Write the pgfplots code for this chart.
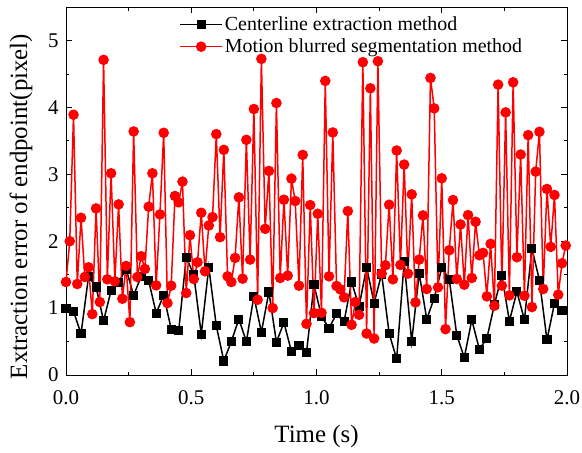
\documentclass[border=0pt]{standalone}
\usepackage{fontspec}
\setmainfont{Liberation Serif}
\usepackage{pgfplots}
\usepackage{pgfplotstable}
\pgfplotsset{compat=1.18}
\pgfplotstableread{
x y
0 1.39
0.015 2.0
0.03 3.89
0.045 1.36
0.06 2.35
0.075 1.465
0.09 1.61
0.105 0.91
0.12 2.49
0.135 1.09
0.15 4.71
0.165 1.43
0.18 3.015
0.195 1.4
0.21 2.55
0.225 1.14
0.24 1.63
0.255 0.79
0.27 3.64
0.285 1.465
0.3 1.775
0.315 1.585
0.33 2.515
0.345 3.015
0.36 1.34
0.375 2.4
0.39 3.62
0.405 1.075
0.42 1.335
0.435 2.675
0.45 2.58
0.465 2.89
0.48 1.225
0.495 2.09
0.51 1.435
0.525 1.685
0.54 2.425
0.555 1.55
0.57 2.235
0.585 2.36
0.6 3.6
0.615 2.06
0.63 3.365
0.645 1.475
0.66 1.39
0.675 1.75
0.69 2.655
0.705 1.44
0.72 3.515
0.735 1.725
0.75 3.975
0.765 1.125
0.78 4.725
0.795 2.185
0.81 3.05
0.825 1.0
0.84 4.065
0.855 1.45
0.87 2.62
0.885 1.485
0.9 2.935
0.915 2.6
0.93 1.335
0.945 3.29
0.96 0.765
0.975 2.54
0.99 0.925
1.005 2.41
1.02 0.93
1.035 4.395
1.05 1.475
1.065 3.625
1.08 1.33
1.095 1.28
1.11 1.16
1.125 2.45
1.14 0.75
1.155 1.09
1.17 0.9
1.185 4.675
1.2 0.62
1.215 4.285
1.23 0.545
1.245 4.69
1.26 1.515
1.275 1.64
1.29 2.545
1.305 1.43
1.32 3.355
1.335 1.645
1.35 3.145
1.365 1.515
1.38 2.7
1.395 1.085
1.41 1.725
1.425 2.385
1.44 1.285
1.455 4.44
1.47 3.985
1.485 1.31
1.5 2.94
1.515 0.685
1.53 1.865
1.545 2.615
1.56 1.435
1.575 2.25
1.59 1.35
1.605 2.39
1.62 1.45
1.635 2.29
1.65 1.79
1.665 1.825
1.68 1.175
1.695 1.96
1.71 1.035
1.725 4.34
1.74 1.335
1.755 3.925
1.77 1.19
1.785 4.375
1.8 1.76
1.815 3.295
1.83 1.185
1.845 3.585
1.86 1.015
1.875 3.04
1.89 3.635
1.905 1.285
1.92 2.78
1.935 1.915
1.95 2.69
1.965 1.2
1.98 1.67
1.995 1.935
}\redtab
\pgfplotstableread{
x y
0 1.0
0.03 0.95
0.06 0.615
0.09 1.475
0.12 1.315
0.15 0.81
0.18 1.26
0.21 1.385
0.24 1.585
0.27 1.19
0.3 1.475
0.33 1.41
0.36 0.925
0.39 1.19
0.42 0.685
0.45 0.665
0.48 1.76
0.51 1.5
0.54 0.61
0.57 1.61
0.6 0.735
0.63 0.21
0.66 0.5
0.69 0.835
0.72 0.5
0.75 1.175
0.78 0.64
0.81 1.24
0.84 0.49
0.87 0.785
0.9 0.35
0.93 0.44
0.96 0.33
0.99 1.35
1.02 0.875
1.05 0.7
1.08 0.915
1.11 0.795
1.14 1.39
1.17 1.025
1.2 1.61
1.23 1.075
1.26 1.51
1.29 0.62
1.32 0.24
1.35 1.69
1.38 0.5
1.41 1.52
1.44 0.835
1.47 1.15
1.5 1.6
1.53 1.43
1.56 0.595
1.59 0.26
1.62 0.825
1.65 0.385
1.68 0.545
1.71 1.05
1.74 1.49
1.77 0.805
1.8 1.245
1.83 0.825
1.86 1.89
1.89 1.415
1.92 0.525
1.95 1.07
1.98 0.965
}\blacktab
\begin{document}
\begin{tikzpicture}
\begin{axis}[
  width=501bp, height=368bp, scale only axis,
  xmin=0, xmax=2, ymin=0, ymax=5.5,
  xtick={0,0.5,1,1.5,2}, ytick={0,1,2,3,4,5},
  minor x tick num=1, minor y tick num=1,
  xticklabel style={/pgf/number format/fixed, /pgf/number format/fixed zerofill, /pgf/number format/precision=1, yshift=-12bp},
  yticklabel style={xshift=-4bp},
  /pgf/number format/assume math mode=true,
  tick label style={font=\fontsize{21}{25}\selectfont},
  label style={font=\fontsize{25}{30}\selectfont},
  xlabel={Time (s)}, ylabel={Extraction error of endpoint(pixel)},
  xlabel style={at={(axis description cs:0.5,0)}, anchor=center, yshift=-62bp},
  ylabel style={at={(axis description cs:-0.0898,0.458)}, anchor=center},
  major tick length=6bp, minor tick length=3.5bp,
  tick style={black, line width=0.8bp},
  axis line style={line width=0.8bp},
  legend style={draw=none, fill=none, at={(0.22,0.985)}, anchor=north west, font=\fontsize{20}{23}\selectfont, row sep=3bp},
  legend cell align=left,
  legend image code/.code={\draw[mark repeat=2,mark phase=2] plot coordinates {(0bp,0bp) (21bp,0bp) (42bp,0bp)};},
]
\addplot[black, line width=1.5bp, mark=square*, mark size=3.8bp, mark options={solid}] table {\blacktab};
\addlegendentry{Centerline extraction method}
\addplot[red, line width=1.5bp, mark=*, mark size=4.5bp, mark options={solid}] table {\redtab};
\addlegendentry{Motion blurred segmentation method}
\end{axis}
\pgfresetboundingbox
\path (-66bp,-78bp) rectangle (516bp,375bp);
\end{tikzpicture}
\end{document}
